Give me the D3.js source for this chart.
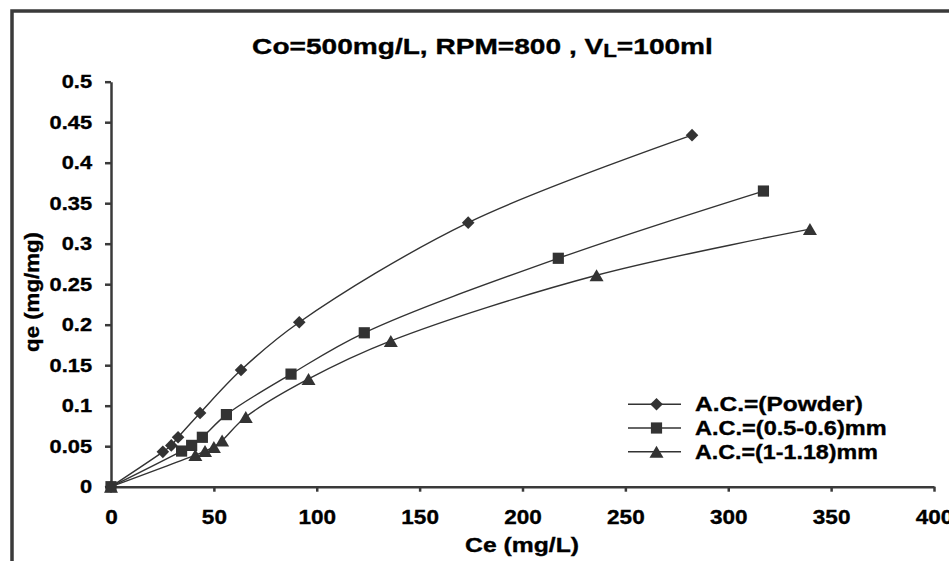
<!DOCTYPE html>
<html>
<head>
<meta charset="utf-8">
<script src="https://cdn.jsdelivr.net/npm/d3@7"></script>
<style>
  body { margin: 0; background: #fff; }
  text { font-family: "Liberation Sans", Arial, sans-serif; font-weight: bold; fill: #000; stroke: #000; stroke-width: 0.35px; }
</style>
</head>
<body>
<div id="chart"></div>
<script>
// values
const xTicks = [0, 50, 100, 150, 200, 250, 300, 350, 400];
const yTicks = [0, 0.05, 0.1, 0.15, 0.2, 0.25, 0.3, 0.35, 0.4, 0.45, 0.5];
const seriesNames = ["A.C.=(Powder)", "A.C.=(0.5-0.6)mm", "A.C.=(1-1.18)mm"];

const powderCe = [0, 25.2, 29.3, 32.6, 43.3, 63.2, 91.5, 173.6, 282.4];
const powderQe = [0, 0.043, 0.051, 0.061, 0.091, 0.144, 0.203, 0.326, 0.434];

const mediumCe = [0, 34.3, 39.2, 44.4, 56.1, 87.5, 123.1, 217.4, 317.1];
const mediumQe = [0, 0.044, 0.051, 0.061, 0.089, 0.139, 0.190, 0.282, 0.365];

const coarseCe = [0, 41.0, 45.7, 50.0, 54.0, 65.5, 96.0, 136.0, 236.0, 339.7];
const coarseQe = [0, 0.039, 0.044, 0.049, 0.057, 0.086, 0.133, 0.180, 0.261, 0.318];

const width = 949, height = 561;
const ink = "#333";

const svg = d3.select("#chart").append("svg")
    .attr("width", width)
    .attr("height", height);

// outer frame, cut off at right and bottom like the original
svg.append("rect")
    .attr("x", 12).attr("y", 11)
    .attr("width", 1000).attr("height", 700)
    .attr("fill", "none")
    .attr("stroke", "#3a3a3a")
    .attr("stroke-width", 3.5);

const x = d3.scaleLinear().domain([0, 400]).range([111, 934]);
const y = d3.scaleLinear().domain([0, 0.5]).range([486.7, 81.7]);

// widen text horizontally about its own anchor
function stretch(sel, sx) {
    sel.attr("transform", function () {
        const tx = +this.getAttribute("x") || 0;
        return `translate(${tx},0) scale(${sx},1) translate(${-tx},0)`;
    });
}

function fit(t, cx, cy, target, rot) {
    const w = t.node().getBBox().width;
    t.attr("transform", `translate(${cx},${cy})${rot ? ` rotate(${rot})` : ""} scale(${target / w},1)`);
}

const yAxis = svg.append("g")
    .attr("transform", `translate(${x(0)},0)`)
    .call(d3.axisLeft(y).tickValues(yTicks).tickSize(6).tickSizeOuter(0).tickPadding(13)
        .tickFormat(d3.format("~g")));

const xAxis = svg.append("g")
    .attr("transform", `translate(0,${y(0)})`)
    .call(d3.axisBottom(x).tickValues(xTicks).tickSize(5).tickSizeOuter(0).tickPadding(18));

[yAxis, xAxis].forEach(g => {
    g.select(".domain").attr("stroke", "#3a3a3a").attr("stroke-width", 2.5);
    g.selectAll(".tick line").attr("stroke", "#3a3a3a").attr("stroke-width", 2.5);
    g.selectAll(".tick text").attr("fill", "#000").attr("font-family", null);
});
yAxis.selectAll(".tick text").attr("font-size", 18.5).call(stretch, 1.18);
xAxis.selectAll(".tick text").attr("font-size", 20.5).call(stretch, 1.1);

// marker shapes
const diamond = r => `M0,${-r}L${r},0L0,${r}L${-r},0Z`;
const square = s => `M${-s / 2},${-s / 2}h${s}v${s}h${-s}Z`;
const triangle = (w, h) => `M0,${-h / 2}L${w / 2},${h / 2}L${-w / 2},${h / 2}Z`;
const shapes = [diamond(6.3), square(11.2), triangle(14, 12)];

const series = [
    { ce: powderCe, qe: powderQe },
    { ce: mediumCe, qe: mediumQe },
    { ce: coarseCe, qe: coarseQe }
];

const line = d3.line()
    .x(d => x(d[0]))
    .y(d => y(d[1]))
    .curve(d3.curveCatmullRom.alpha(0.5));

series.forEach((s, i) => {
    const pts = s.ce.map((c, k) => [c, s.qe[k]]);
    svg.append("path")
        .attr("d", line(pts))
        .attr("fill", "none")
        .attr("stroke", ink)
        .attr("stroke-width", 1.4);
    svg.append("g").selectAll("path")
        .data(pts)
        .enter()
        .append("path")
        .attr("d", shapes[i])
        .attr("transform", d => `translate(${x(d[0])},${y(d[1])})`)
        .attr("fill", ink);
});

// legend
const legendY = [404.3, 428, 451.7];
seriesNames.forEach((name, i) => {
    const g = svg.append("g");
    g.append("line")
        .attr("x1", 628).attr("x2", 681)
        .attr("y1", legendY[i]).attr("y2", legendY[i])
        .attr("stroke", ink).attr("stroke-width", 1.4);
    g.append("path")
        .attr("d", shapes[i])
        .attr("transform", `translate(656.5,${legendY[i]})`)
        .attr("fill", ink);
    const t = g.append("text")
        .attr("font-size", 19.5)
        .text(name);
    fit(t, 695, legendY[i] + 6.8, [168, 191.7, 183][i]);
});

// title with subscript
const title = svg.append("text")
    .attr("font-size", 22)
    .attr("text-anchor", "middle");
title.append("tspan").text("Co=500mg/L, RPM=800 , V");
title.append("tspan").attr("font-size", 17.5).attr("dy", 2.8).text("L");
title.append("tspan").attr("dy", -2.8).text("=100ml");
fit(title, 482.5, 54, 461);

const xTitle = svg.append("text")
    .attr("font-size", 20.5)
    .attr("text-anchor", "middle")
    .text("Ce (mg/L)");
fit(xTitle, 522, 551.5, 114);

const yTitle = svg.append("text")
    .attr("font-size", 19.5)
    .attr("text-anchor", "middle")
    .text("qe (mg/mg)");
fit(yTitle, 39, 292, 120, -90);
</script>
</body>
</html>
